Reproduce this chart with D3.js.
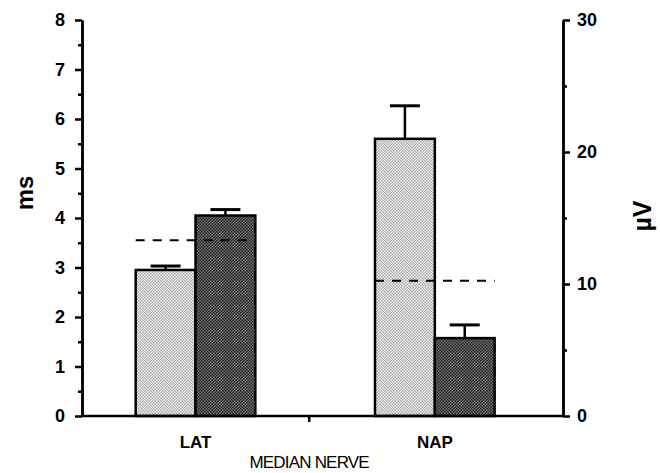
<!DOCTYPE html>
<html lang="en">
<head>
    <meta charset="UTF-8">
    <title>Median nerve</title>
    <script src="https://d3js.org/d3.v7.min.js"></script>
    <style>
        body { margin: 0; background: #fff; font-family: "Liberation Sans", Arial, sans-serif; }
    </style>
</head>
<body>
    <div id="chart"></div>

    <script>
        // groups: LAT is read on the left axis (ms), NAP on the right axis (µV)
        const groups = ["LAT", "NAP"];
        const lightValues = [2.95, 21.0];
        const lightErrors = [0.08, 2.5];
        const darkValues = [4.05, 5.9];
        const darkErrors = [0.12, 1.0];
        const normalLimits = [3.55, 10.25];
        const leftTicks = [0, 1, 2, 3, 4, 5, 6, 7, 8];
        const rightTicks = [0, 10, 20, 30];

        const width = 660;
        const height = 473;
        const margin = { top: 20, right: 97, bottom: 57, left: 82 };

        const svg = d3.select("#chart")
            .append("svg")
            .attr("width", width)
            .attr("height", height);

        const defs = svg.append("defs");
        function stipple(id, bg, dot) {
            const p = defs.append("pattern")
                .attr("id", id)
                .attr("patternUnits", "userSpaceOnUse")
                .attr("width", 3).attr("height", 3);
            p.append("rect").attr("width", 3).attr("height", 3).attr("fill", bg);
            p.append("rect").attr("x", 0).attr("y", 0).attr("width", 1.5).attr("height", 1.5).attr("fill", dot);
            p.append("rect").attr("x", 1.5).attr("y", 1.5).attr("width", 1.5).attr("height", 1.5).attr("fill", dot);
        }
        stipple("light", "#f2f2f2", "#a8a8a8");
        stipple("dark", "#7a7a7a", "#1a1a1a");

        const x = d3.scaleBand()
            .domain(groups)
            .range([margin.left, width - margin.right])
            .paddingInner(0.5)
            .paddingOuter(0.255)
            .align(0.44);

        const sub = d3.scaleBand()
            .domain(["light", "dark"])
            .range([0, x.bandwidth()]);

        const yL = d3.scaleLinear().domain([0, 8]).range([height - margin.bottom, margin.top]);
        const yR = d3.scaleLinear().domain([0, 30]).range([height - margin.bottom, margin.top]);
        const yFor = i => i === 0 ? yL : yR;

        const rows = groups.map((g, i) => ({
            group: g, i,
            light: lightValues[i], lightErr: lightErrors[i],
            dark: darkValues[i], darkErr: darkErrors[i],
            normal: normalLimits[i]
        }));

        const bars = [];
        rows.forEach(r => {
            bars.push({ group: r.group, i: r.i, key: "light", value: r.light, err: r.lightErr });
            bars.push({ group: r.group, i: r.i, key: "dark", value: r.dark, err: r.darkErr });
        });

        // error bars (upper only)
        const eb = svg.append("g").attr("stroke", "#000").attr("stroke-width", 2.5);
        bars.forEach(d => {
            const y = yFor(d.i);
            const cx = x(d.group) + sub(d.key) + sub.bandwidth() / 2;
            eb.append("line").attr("x1", cx).attr("x2", cx)
                .attr("y1", y(d.value)).attr("y2", y(d.value + d.err));
            eb.append("line").attr("x1", cx - 15).attr("x2", cx + 15)
                .attr("y1", y(d.value + d.err)).attr("y2", y(d.value + d.err))
                .attr("stroke-width", 3);
        });

        svg.append("g")
            .selectAll("rect")
            .data(bars)
            .join("rect")
            .attr("x", d => x(d.group) + sub(d.key))
            .attr("width", sub.bandwidth())
            .attr("y", d => yFor(d.i)(d.value))
            .attr("height", d => yFor(d.i)(0) - yFor(d.i)(d.value))
            .attr("fill", d => `url(#${d.key})`)
            .attr("stroke", "#000")
            .attr("stroke-width", 2.5);

        // normal limit dashed lines
        svg.append("g")
            .selectAll("line")
            .data(rows)
            .join("line")
            .attr("x1", d => x(d.group))
            .attr("x2", d => x(d.group) + x.bandwidth())
            .attr("y1", d => yFor(d.i)(d.normal))
            .attr("y2", d => yFor(d.i)(d.normal))
            .attr("stroke", "#000")
            .attr("stroke-width", 2)
            .attr("stroke-dasharray", "9,8");

        // axes
        function styleAxis(g) {
            g.selectAll(".domain").attr("stroke-width", 2.5);
            g.selectAll(".tick line").attr("stroke-width", 2.5);
            g.selectAll(".tick text")
                .attr("font-family", "Liberation Sans, Arial, sans-serif")
                .attr("font-size", 18)
                .attr("font-weight", "bold")
                .attr("fill", "#000");
        }

        const half = v => d3.range(v[0] + (v[1] - v[0]) / 2, v[v.length - 1], v[1] - v[0]);

        svg.append("g")
            .attr("transform", `translate(${margin.left},0)`)
            .call(d3.axisLeft(yL).tickValues(half(leftTicks)).tickSize(4).tickSizeOuter(0).tickFormat(""))
            .call(styleAxis);
        svg.append("g")
            .attr("transform", `translate(${margin.left},0)`)
            .call(d3.axisLeft(yL).tickValues(leftTicks).tickSize(7).tickSizeOuter(0).tickPadding(10))
            .call(styleAxis);

        const xr = width - margin.right;
        svg.append("g")
            .attr("transform", `translate(${xr},0)`)
            .call(d3.axisRight(yR).tickValues(half(rightTicks)).tickSize(4).tickSizeOuter(0).tickFormat(""))
            .call(styleAxis);
        svg.append("g")
            .attr("transform", `translate(${xr},0)`)
            .call(d3.axisRight(yR).tickValues(rightTicks).tickSize(7).tickSizeOuter(0).tickPadding(7))
            .call(styleAxis);

        // bottom axis
        const x0 = yL(0);
        const xb = svg.append("g").attr("stroke", "#000").attr("stroke-width", 2.5);
        xb.append("line").attr("x1", margin.left).attr("x2", xr).attr("y1", x0).attr("y2", x0);
        const mid = (x(groups[0]) + x.bandwidth() / 2 + x(groups[1]) + x.bandwidth() / 2) / 2 - 6;
        xb.append("line").attr("x1", mid).attr("x2", mid).attr("y1", x0).attr("y2", x0 + 6);

        svg.append("g")
            .selectAll("text")
            .data(groups)
            .join("text")
            .attr("x", d => x(d) + x.bandwidth() / 2)
            .attr("y", x0 + 32)
            .attr("text-anchor", "middle")
            .attr("font-size", 17)
            .attr("font-weight", "bold")
            .text(d => d);

        svg.append("text")
            .attr("x", mid)
            .attr("y", x0 + 52)
            .attr("text-anchor", "middle")
            .attr("font-size", 17)
            .attr("letter-spacing", -0.8)
            .text("MEDIAN NERVE");

        svg.append("text")
            .attr("transform", `translate(33,193) rotate(-90)`)
            .attr("text-anchor", "middle")
            .attr("font-size", 24)
            .attr("font-weight", "bold")
            .text("ms");

        svg.append("text")
            .attr("transform", `translate(651,216) rotate(-90)`)
            .attr("text-anchor", "middle")
            .attr("font-size", 25)
            .attr("font-weight", "bold")
            .text("µV");
    </script>
</body>
</html>
